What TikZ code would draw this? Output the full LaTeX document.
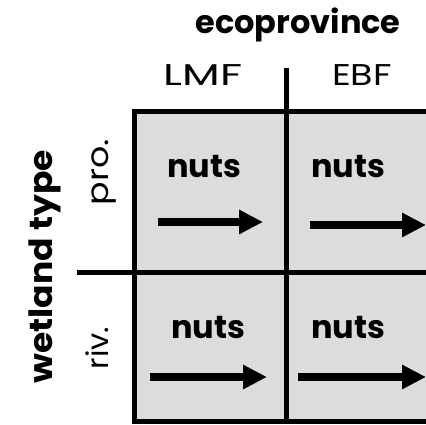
\documentclass[tikz,border=0pt]{standalone}
\usepackage{fontspec}
\usepackage{graphicx}
\setmainfont{Poppins}
\usetikzlibrary{arrows.meta}
\definecolor{cellgray}{RGB}{220,220,220}
\begin{document}
\begin{tikzpicture}[x=1pt,y=-1pt,
  txt/.style={inner sep=0pt, font=\fontsize{30}{34}\selectfont},
  btxt/.style={inner sep=0pt, font=\bfseries\fontsize{32}{36}\selectfont},
  gridline/.style={line width=5pt, line cap=rect},
  arr/.style={line width=8pt, -{Triangle[length=24pt,width=23pt]}}]
\useasboundingbox (0,0) rectangle (426,424);
\clip (0,0) rectangle (426,424);
\fill[cellgray] (134,111) rectangle (430,421);
% grid lines
\draw[gridline] (432,111) -- (134,111) -- (134,421) -- (432,421);
\draw[gridline, line cap=butt] (286,68) -- (286,421);
\draw[gridline, line cap=butt] (77,272) -- (432,272);
% headers
\node[btxt, anchor=base] (eco) at (298,33) {\scalebox{1.0}[1]{ecoprovince}};
\node[txt, anchor=base] (lmf) at (203,85) {\scalebox{1.46}[1]{LMF}};
\node[txt, anchor=base] (ebf) at (362,85) {\scalebox{1.22}[1]{EBF}};
\node[btxt, anchor=base, rotate=90] (wt) at (52,267) {\scalebox{1.08}[1]{wetland type}};
\node[txt, anchor=base, rotate=90] (pro) at (108,172) {\scalebox{1.16}[1]{pro.}};
\node[txt, anchor=base, rotate=90] (riv) at (108,348) {\scalebox{1.02}[1]{riv.}};
% cells
\node[btxt, anchor=base] (n11) at (204,177) {nuts};
\node[btxt, anchor=base] (n12) at (348,177) {nuts};
\node[btxt, anchor=base] (n21) at (208,338) {nuts};
\node[btxt, anchor=base] (n22) at (348,338) {nuts};
% arrows
\coordinate (a1s) at (158,222); \coordinate (a1e) at (263,222);
\coordinate (a2s) at (310,225); \coordinate (a2e) at (426,225);
\coordinate (a3s) at (150,377); \coordinate (a3e) at (267,377);
\coordinate (a4s) at (298,377); \coordinate (a4e) at (426,377);
\draw[arr] (a1s) -- (a1e);
\draw[arr] (a2s) -- (a2e);
\draw[arr] (a3s) -- (a3e);
\draw[arr] (a4s) -- (a4e);
\end{tikzpicture}
\end{document}
